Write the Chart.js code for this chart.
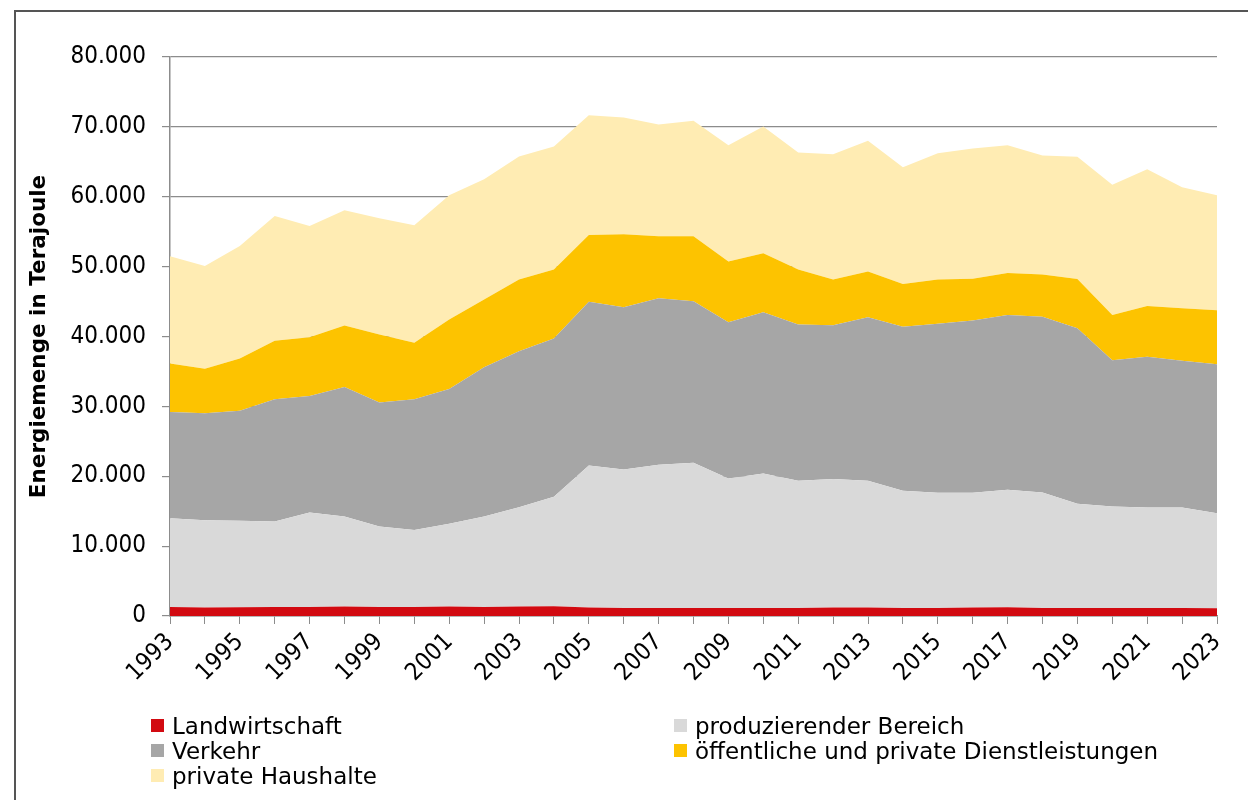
<!DOCTYPE html>
<html lang="de">
<head>
<meta charset="utf-8">
<script src="https://cdn.jsdelivr.net/npm/chart.js@4"></script>
<style>
  html, body { margin: 0; padding: 0; background: #fff; }
  body { width: 1248px; height: 800px; position: relative; overflow: hidden;
         font-family: "DejaVu Sans", sans-serif; }
  #frame { position: absolute; left: 14px; top: 10px; width: 1260px; height: 820px;
           border-left: 2px solid #555; border-top: 2px solid #555; box-sizing: border-box; }
  #wrap { position: absolute; left: 0; top: 0; width: 1248px; height: 800px; }
  #legend { position: absolute; left: 151px; top: 713px; width: 1050px; }
  .item { position: absolute; display: flex; align-items: center; height: 25px;
          font-size: 23px; color: #000; white-space: nowrap; }
  .sw { width: 13px; height: 13px; margin-right: 8px; }
</style>
</head>
<body>
<div id="frame"></div>
<div id="wrap"><canvas id="energyChart" width="1248" height="800"></canvas></div>
<div id="legend"></div>
<script>
const years = [];
for (let y = 1993; y <= 2023; y++) years.push(String(y));

// Energiemenge in Terajoule
const landwirtschaft = [1300, 1200, 1250, 1300, 1300, 1350, 1300, 1300, 1350, 1300,
  1350, 1400, 1200, 1150, 1150, 1150, 1150, 1150, 1150, 1200,
  1200, 1150, 1150, 1200, 1250, 1150, 1150, 1150, 1150, 1150, 1100];
const produzierend = [12700, 12520, 12370, 12220, 13510, 12890, 11500, 10990, 11840, 12940,
  14230, 15660, 20350, 19830, 20500, 20780, 18540, 19250, 18200, 18400,
  18150, 16770, 16480, 16430, 16810, 16530, 14910, 14520, 14380, 14380, 13620];
const verkehr = [15200, 15290, 15770, 17490, 16690, 18550, 17740, 18720, 19310, 21360,
  22320, 22650, 23420, 23220, 23840, 23130, 22360, 23080, 22370, 22020,
  23420, 23470, 24190, 24660, 25000, 25140, 25130, 20930, 21560, 20990, 21310];
const dienstleistungen = [6930, 6360, 7460, 8370, 8400, 8790, 9750, 8090, 9940, 9700,
  10270, 9890, 9560, 10420, 8850, 9280, 8700, 8420, 7880, 6550,
  6550, 6110, 6350, 5980, 6020, 6070, 7030, 6460, 7260, 7540, 7740];
const haushalte = [15340, 14710, 16100, 17870, 15910, 16480, 16630, 16810, 17775, 17210,
  17590, 17600, 17150, 16730, 16010, 16530, 16630, 18160, 16730, 17920,
  18680, 16730, 18070, 18640, 18300, 17010, 17490, 18640, 19590, 17300, 16445];

const seriesNames = ['Landwirtschaft', 'produzierender Bereich', 'Verkehr',
  'öffentliche und private Dienstleistungen', 'private Haushalte'];
const seriesData = [landwirtschaft, produzierend, verkehr, dienstleistungen, haushalte];
const colors = ['#D20A11', '#D9D9D9', '#A6A6A6', '#FDC300', '#FFECB3'];

const condensed = '"DejaVu Sans Condensed", "DejaVu Sans", sans-serif';
const regular = '"DejaVu Sans", sans-serif';

// thousands with a dot, like 80.000
function fmt(v) {
  return String(v).replace(/\B(?=(\d{3})+(?!\d))/g, '.');
}

const datasets = seriesData.map((d, i) => ({
  label: seriesNames[i],
  data: d,
  backgroundColor: colors[i],
  borderWidth: 0,
  pointRadius: 0,
  tension: 0,
  fill: i === 0 ? 'origin' : '-1'
}));

new Chart(document.getElementById('energyChart'), {
  type: 'line',
  data: { labels: years, datasets },
  options: {
    responsive: false,
    animation: false,
    layout: { padding: { top: 57, right: 31, left: 0, bottom: 0 } },
    plugins: { legend: { display: false }, tooltip: { enabled: false } },
    scales: {
      x: {
        offset: false,
        afterFit: s => { s.height = 184; },
        grid: { drawOnChartArea: false, drawTicks: true, tickLength: 8, color: '#8c8c8c' },
        border: { color: '#8c8c8c', width: 1.5 },
        ticks: {
          autoSkip: false,
          maxRotation: 45, minRotation: 45,
          padding: 4,
          color: '#000',
          font: { family: condensed, size: 24 },
          callback: (v, i) => (i % 2 === 0 ? years[i] : '')
        }
      },
      y: {
        stacked: true,
        min: 0, max: 80000,
        afterFit: s => { s.width = 170; },
        grid: { color: '#8c8c8c', lineWidth: 1.2, tickLength: 8 },
        border: { color: '#8c8c8c', width: 1.5 },
        ticks: {
          stepSize: 10000,
          padding: 16,
          color: '#000',
          font: { family: condensed, size: 24 },
          callback: v => fmt(v)
        },
        title: {
          display: true,
          text: 'Energiemenge in Terajoule',
          color: '#000',
          font: { family: regular, size: 21.5, weight: 'bold' },
          padding: { top: 27, bottom: 0 }
        }
      }
    }
  }
});

// legend in two columns, built from the series names and colours
const legendPos = [[0, 0], [523, 0], [0, 25], [523, 25], [0, 50]];
const legend = document.getElementById('legend');
seriesNames.forEach((name, i) => {
  const el = document.createElement('div');
  el.className = 'item';
  el.style.left = legendPos[i][0] + 'px';
  el.style.top = legendPos[i][1] + 'px';
  el.innerHTML = '<span class="sw" style="background:' + colors[i] + '"></span>' + name;
  legend.appendChild(el);
});
</script>
</body>
</html>
